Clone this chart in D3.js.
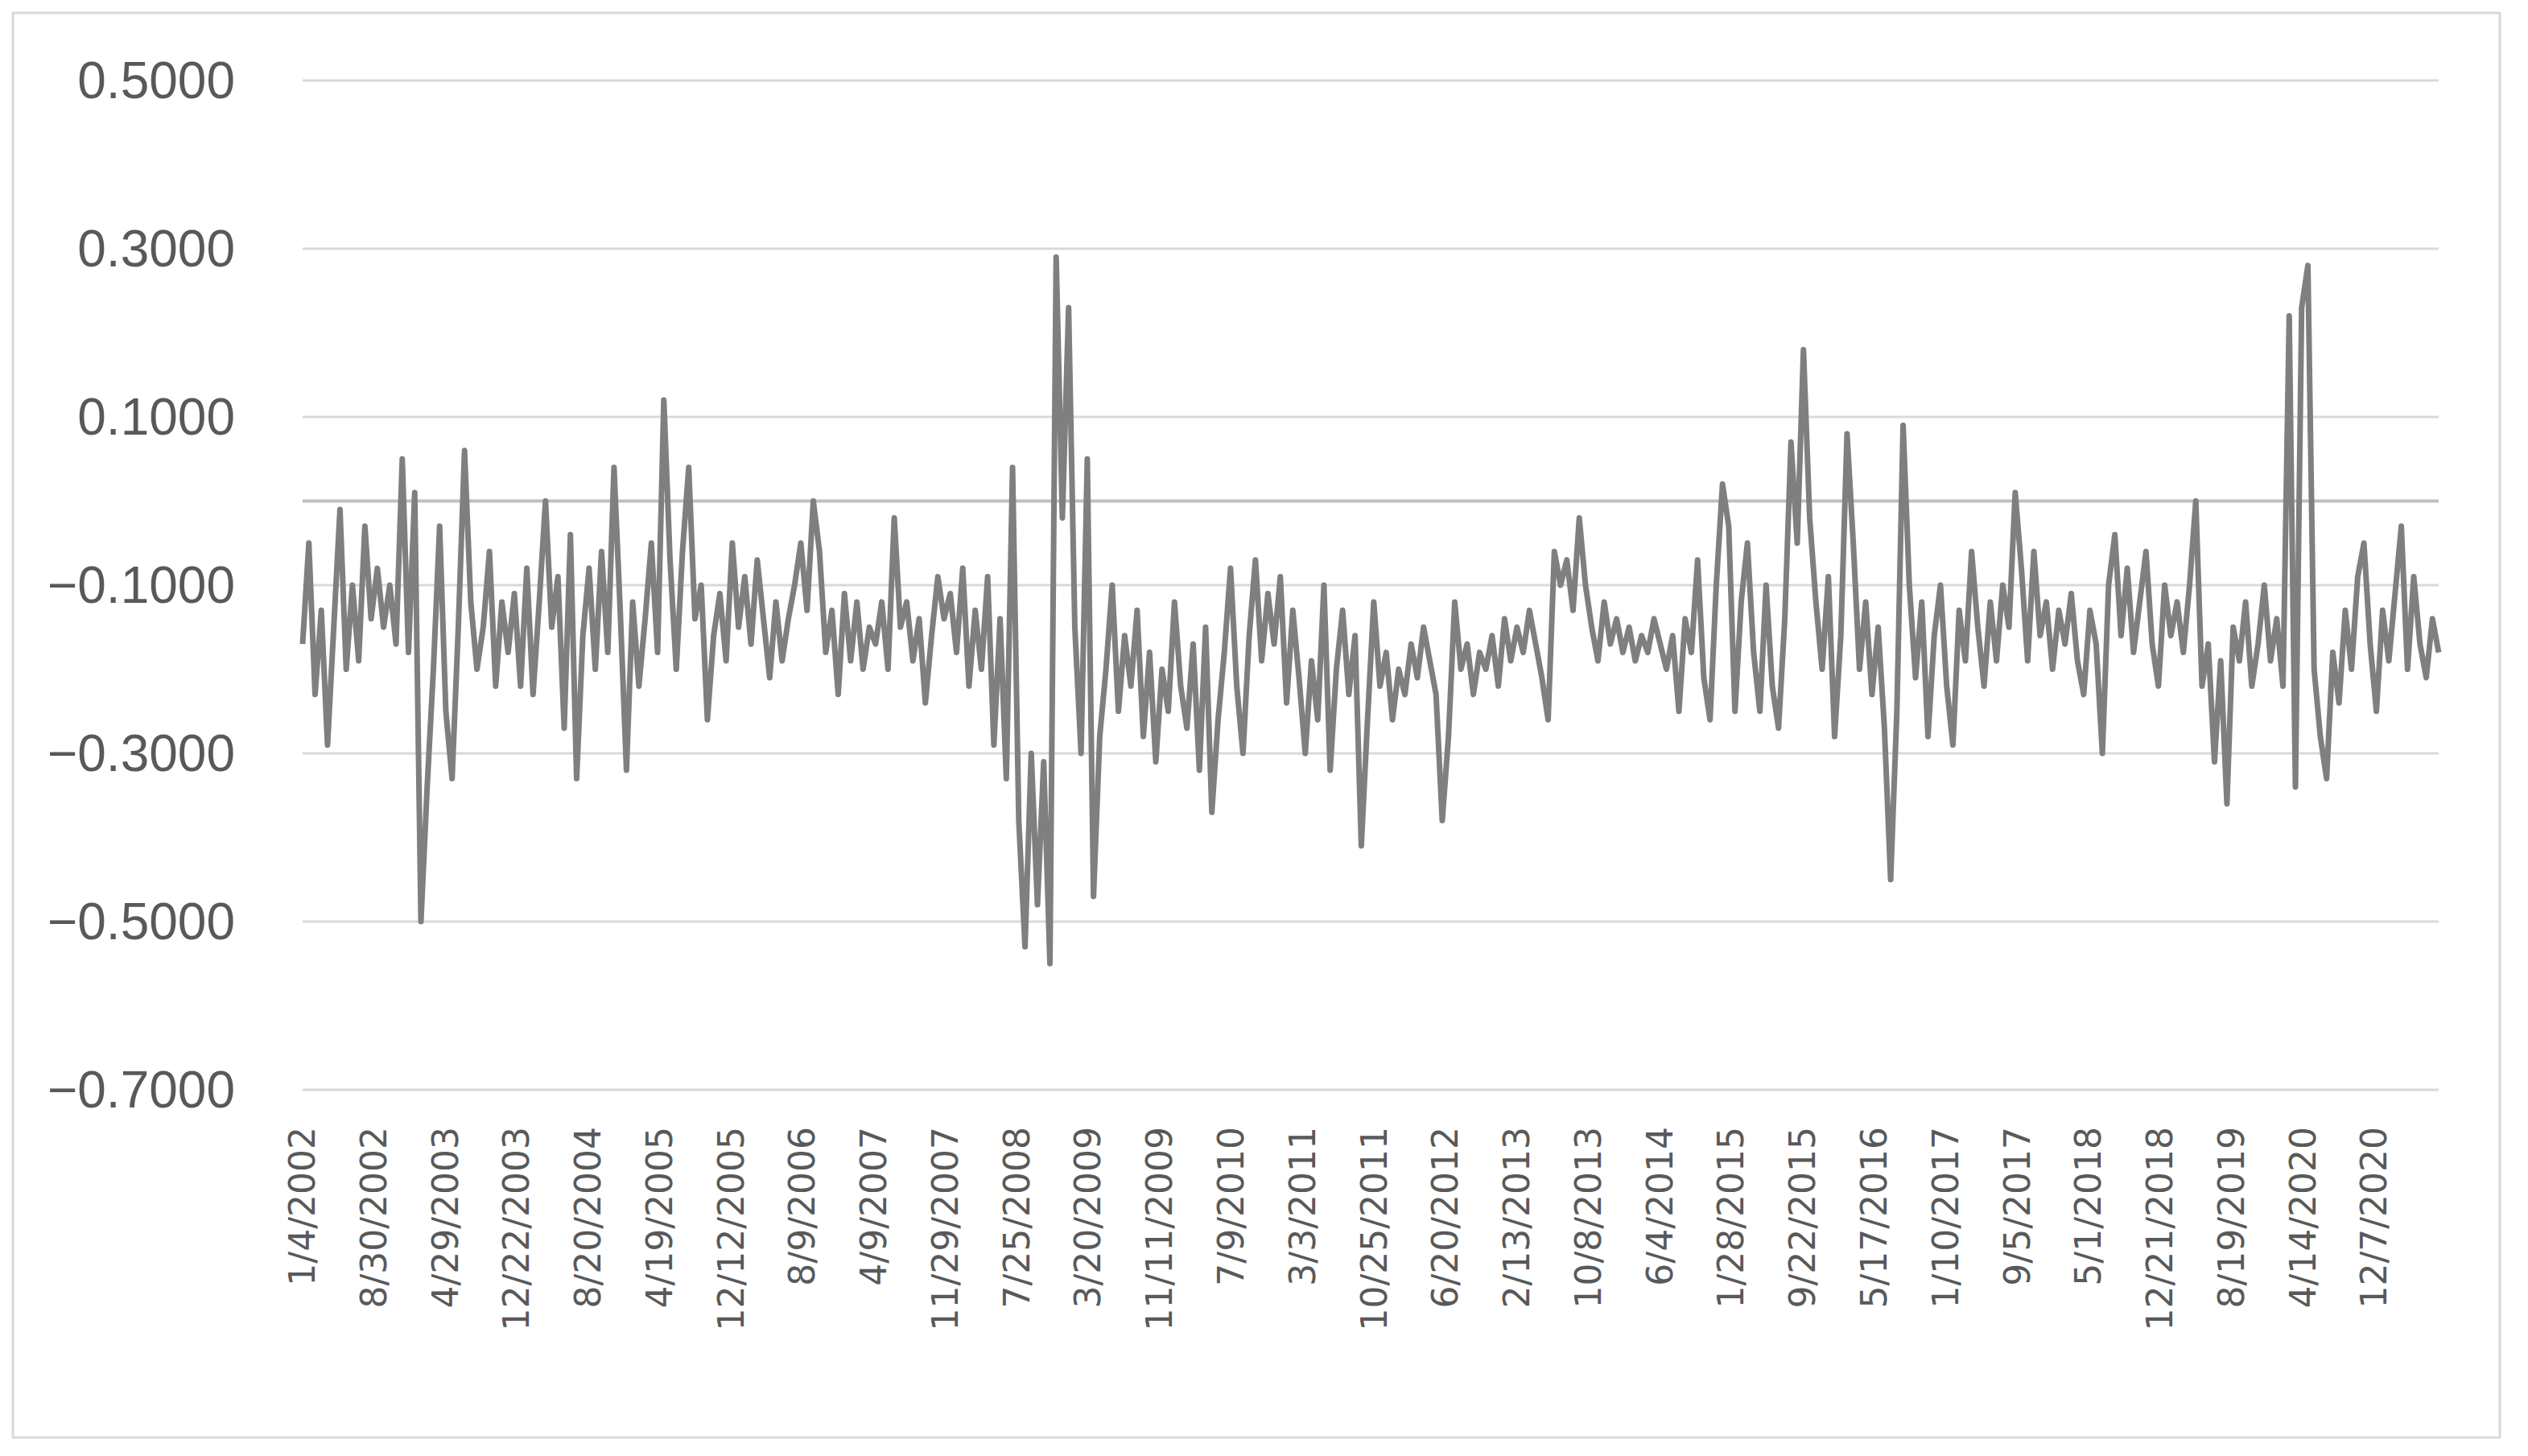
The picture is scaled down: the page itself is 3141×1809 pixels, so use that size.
<!DOCTYPE html>
<html>
<head>
<meta charset="utf-8">
<script src="https://cdn.jsdelivr.net/npm/d3@7"></script>
<style>
  body { margin: 0; background: #fff; }
</style>
</head>
<body>
<svg id="svg"></svg>
<script>
// trading-day category axis: one label every 165 observations
const totalDays = 4934;
const labelStep = 165;
const dateLabels = ["1/4/2002","8/30/2002","4/29/2003","12/22/2003","8/20/2004","4/19/2005",
  "12/12/2005","8/9/2006","4/9/2007","11/29/2007","7/25/2008","3/20/2009","11/11/2009",
  "7/9/2010","3/3/2011","10/25/2011","6/20/2012","2/13/2013","10/8/2013","6/4/2014",
  "1/28/2015","9/22/2015","5/17/2016","1/10/2017","9/5/2017","5/1/2018","12/21/2018",
  "8/19/2019","4/14/2020","12/7/2020"];
const yTicks = [0.5, 0.3, 0.1, -0.1, -0.3, -0.5, -0.7];

// series, sampled evenly across the whole period
const values = [
  -0.17,-0.05,-0.23,-0.13,-0.29,-0.15,-0.01,-0.20,-0.10,-0.19,-0.03,-0.14,-0.08,-0.15,-0.10,-0.17,
  0.05,-0.18,0.01,-0.50,-0.34,-0.20,-0.03,-0.25,-0.33,-0.15,0.06,-0.12,-0.20,-0.15,-0.06,-0.22,
  -0.12,-0.18,-0.11,-0.22,-0.08,-0.23,-0.12,0.00,-0.15,-0.09,-0.27,-0.04,-0.33,-0.16,-0.08,-0.20,
  -0.06,-0.18,0.04,-0.13,-0.32,-0.12,-0.22,-0.14,-0.05,-0.18,0.12,-0.07,-0.20,-0.06,0.04,-0.14,
  -0.10,-0.26,-0.16,-0.11,-0.19,-0.05,-0.15,-0.09,-0.17,-0.07,-0.14,-0.21,-0.12,-0.19,-0.14,-0.10,
  -0.05,-0.13,0.00,-0.06,-0.18,-0.13,-0.23,-0.11,-0.19,-0.12,-0.20,-0.15,-0.17,-0.12,-0.20,-0.02,
  -0.15,-0.12,-0.19,-0.14,-0.24,-0.16,-0.09,-0.14,-0.11,-0.18,-0.08,-0.22,-0.13,-0.20,-0.09,-0.29,
  -0.14,-0.33,0.04,-0.38,-0.53,-0.30,-0.48,-0.31,-0.55,0.29,-0.02,0.23,-0.15,-0.30,0.05,-0.47,
  -0.28,-0.20,-0.10,-0.25,-0.16,-0.22,-0.13,-0.28,-0.18,-0.31,-0.20,-0.25,-0.12,-0.22,-0.27,-0.17,
  -0.32,-0.15,-0.37,-0.26,-0.18,-0.08,-0.22,-0.30,-0.16,-0.07,-0.19,-0.11,-0.17,-0.09,-0.24,-0.13,
  -0.21,-0.30,-0.19,-0.26,-0.10,-0.32,-0.20,-0.13,-0.23,-0.16,-0.41,-0.26,-0.12,-0.22,-0.18,-0.26,
  -0.20,-0.23,-0.17,-0.21,-0.15,-0.19,-0.23,-0.38,-0.28,-0.12,-0.20,-0.17,-0.23,-0.18,-0.20,-0.16,
  -0.22,-0.14,-0.19,-0.15,-0.18,-0.13,-0.17,-0.21,-0.26,-0.06,-0.10,-0.07,-0.13,-0.02,-0.10,-0.15,
  -0.19,-0.12,-0.17,-0.14,-0.18,-0.15,-0.19,-0.16,-0.18,-0.14,-0.17,-0.20,-0.16,-0.25,-0.14,-0.18,
  -0.07,-0.21,-0.26,-0.10,0.02,-0.03,-0.25,-0.12,-0.05,-0.18,-0.25,-0.10,-0.22,-0.27,-0.14,0.07,
  -0.05,0.18,-0.02,-0.12,-0.20,-0.09,-0.28,-0.16,0.08,-0.05,-0.20,-0.12,-0.23,-0.15,-0.27,-0.45,
  -0.25,0.09,-0.10,-0.21,-0.12,-0.28,-0.16,-0.10,-0.22,-0.29,-0.13,-0.19,-0.06,-0.15,-0.22,-0.12,
  -0.19,-0.10,-0.15,0.01,-0.08,-0.19,-0.06,-0.16,-0.12,-0.20,-0.13,-0.17,-0.11,-0.19,-0.23,-0.13,
  -0.17,-0.30,-0.10,-0.04,-0.16,-0.08,-0.18,-0.12,-0.06,-0.17,-0.22,-0.10,-0.16,-0.12,-0.18,-0.10,
  0.00,-0.22,-0.17,-0.31,-0.19,-0.36,-0.15,-0.19,-0.12,-0.22,-0.17,-0.10,-0.19,-0.14,-0.22,0.22,
  -0.34,0.23,0.28,-0.20,-0.28,-0.33,-0.18,-0.24,-0.13,-0.20,-0.09,-0.05,-0.17,-0.25,-0.13,-0.19,
  -0.11,-0.03,-0.20,-0.09,-0.17,-0.21,-0.14,-0.18
];

const layout = {width: 3141, height: 1809, left: 376, right: 3030, top: 100, bottom: 1354};

const svg = d3.select("#svg").attr("width", layout.width).attr("height", layout.height);

svg.append("rect")
  .attr("x", 16).attr("y", 16)
  .attr("width", 3090).attr("height", 1770)
  .attr("fill", "#fff").attr("stroke", "#d9d9d9").attr("stroke-width", 3);

const xScale = d3.scaleLinear().domain([0, totalDays - 1]).range([layout.left, layout.right]);
const yScale = d3.scaleLinear().domain([-0.7, 0.5]).range([layout.bottom, layout.top]);

// gridlines
svg.append("g").selectAll("line")
  .data(yTicks)
  .join("line")
  .attr("x1", layout.left).attr("x2", layout.right)
  .attr("y1", d => yScale(d)).attr("y2", d => yScale(d))
  .attr("stroke", "#d9d9d9").attr("stroke-width", 3);

// zero line
svg.append("line")
  .attr("x1", layout.left).attr("x2", layout.right)
  .attr("y1", yScale(0)).attr("y2", yScale(0))
  .attr("stroke", "#bfbfbf").attr("stroke-width", 4);

// y labels
svg.append("g").selectAll("text")
  .data(yTicks)
  .join("text")
  .attr("x", 292)
  .attr("y", d => yScale(d))
  .attr("dy", "0.35em")
  .attr("text-anchor", "end")
  .attr("fill", "#595959")
  .style("font-family", "'Liberation Sans Narrow', 'Liberation Sans', sans-serif")
  .style("font-size", "64px")
  .text(d => (d < 0 ? "\u2212" : "") + Math.abs(d).toFixed(4));

// x labels
svg.append("g").selectAll("text")
  .data(dateLabels)
  .join("text")
  .attr("transform", (d, i) => `translate(${xScale(i * labelStep) + 15}, 1400) rotate(-90)`)
  .attr("text-anchor", "end")
  .attr("fill", "#595959")
  .style("font-family", "'DejaVu Sans', sans-serif")
  .style("font-size", "44px")
  .text(d => d);

const step = (totalDays - 1) / (values.length - 1);
const line = d3.line()
  .x((d, i) => xScale(i * step))
  .y(d => yScale(d));

svg.append("path")
  .datum(values)
  .attr("fill", "none")
  .attr("stroke", "#7f7f7f")
  .attr("stroke-width", 7)
  .attr("stroke-linejoin", "round")
  .attr("d", line);
</script>
</body>
</html>
